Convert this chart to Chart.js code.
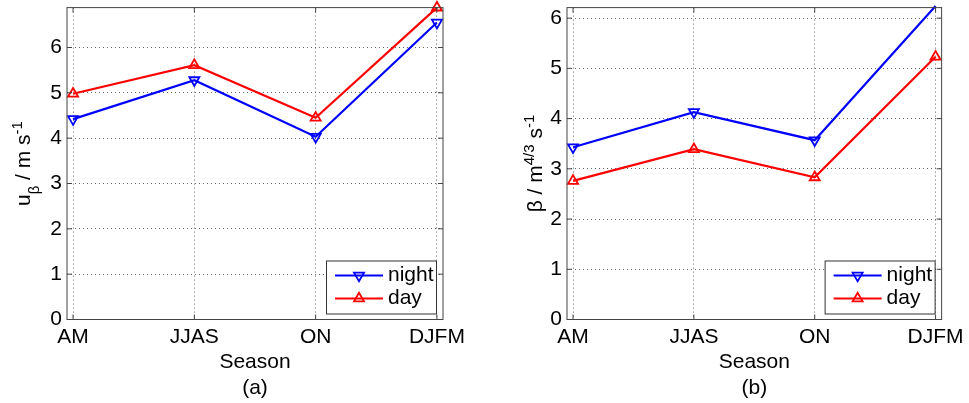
<!DOCTYPE html>
<html>
<head>
<meta charset="utf-8">
<script src="https://cdn.jsdelivr.net/npm/chart.js@4/dist/chart.umd.min.js"></script>
<style>
  body { margin: 0; background: #fff; width: 969px; height: 403px; overflow: hidden; position: relative; }
  canvas { position: absolute; top: 0; }
  #ca { left: 0; }
  #cb { left: 484px; }
</style>
</head>
<body>
<canvas id="ca" width="484" height="403"></canvas>
<canvas id="cb" width="485" height="403"></canvas>
<script>
const seasons = ['AM', 'JJAS', 'ON', 'DJFM'];
const uNight = [4.42, 5.28, 4.03, 6.55];
const uDay = [4.98, 5.61, 4.45, 6.88];
const betaNight = [3.43, 4.13, 3.57, 6.24];
const betaDay = [2.76, 3.39, 2.83, 5.23];
const uMax = 6.88;
const betaMax = 6.21;

const FONT = 'Arial, "Liberation Sans", sans-serif';
Chart.defaults.font.family = FONT;
Chart.defaults.font.size = 21;
Chart.defaults.color = '#000';

function tri(ctx, x, y, r, down) {
  const s = down ? -1 : 1;
  ctx.beginPath();
  ctx.moveTo(x, y - s * r);
  ctx.lineTo(x + r * 0.866, y + s * r / 2);
  ctx.lineTo(x - r * 0.866, y + s * r / 2);
  ctx.closePath();
  ctx.stroke();
}

// box, inner ticks, legend and rotated y title (with sub/superscripts)
const decor = {
  id: 'decor',
  afterDraw(chart, args, opts) {
    const ctx = chart.ctx;
    const a = chart.chartArea;
    const xs = chart.scales.x, ys = chart.scales.y;
    ctx.save();
    ctx.strokeStyle = '#444';
    ctx.lineWidth = 1;
    ctx.strokeRect(a.left, a.top, a.right - a.left, a.bottom - a.top);
    ctx.beginPath();
    xs.ticks.forEach(t => {
      const px = xs.getPixelForValue(t.value);
      ctx.moveTo(px, a.bottom); ctx.lineTo(px, a.bottom - 5);
      ctx.moveTo(px, a.top); ctx.lineTo(px, a.top + 5);
    });
    ys.ticks.forEach(t => {
      const py = ys.getPixelForValue(t.value);
      ctx.moveTo(a.left, py); ctx.lineTo(a.left + 5, py);
      ctx.moveTo(a.right, py); ctx.lineTo(a.right - 5, py);
    });
    ctx.stroke();

    // legend
    const w = 110, h = 53;
    const bx = a.right - 7 - w, by = a.bottom - 6 - h;
    ctx.fillStyle = '#fff';
    ctx.fillRect(bx, by, w, h);
    ctx.strokeStyle = '#333';
    ctx.strokeRect(bx + 0.5, by + 0.5, w, h);
    chart.data.datasets.forEach((ds, i) => {
      const y = by + 15 + i * 23;
      ctx.strokeStyle = ds.borderColor;
      ctx.lineWidth = 2.2;
      ctx.beginPath();
      ctx.moveTo(bx + 9, y); ctx.lineTo(bx + 57, y);
      ctx.stroke();
      ctx.lineWidth = 1.8;
      tri(ctx, bx + 33, y, 5.8, ds.pointRotation === 180);
      ctx.fillStyle = '#000';
      ctx.font = '21px ' + FONT;
      ctx.textBaseline = 'middle';
      ctx.textAlign = 'left';
      ctx.fillText(ds.label, bx + 62, y);
    });

    // y title
    const parts = opts.title;
    const cy = (a.top + a.bottom) / 2;
    ctx.translate(opts.titleX, cy);
    ctx.rotate(-Math.PI / 2);
    ctx.fillStyle = '#000';
    ctx.textBaseline = 'alphabetic';
    const fnt = p => (p.sub || p.sup ? '15px ' : '21px ') + FONT;
    let total = 0;
    parts.forEach(p => { ctx.font = fnt(p); total += ctx.measureText(p.t).width; });
    let cx = -total / 2;
    parts.forEach(p => {
      ctx.font = fnt(p);
      const dy = p.sub ? 9 : p.sup ? -8 : 0;
      ctx.fillText(p.t, cx, dy);
      cx += ctx.measureText(p.t).width;
    });
    ctx.restore();
  }
};

function makeChart(id, night, day, yMax, caption, yWidth, padTop, padRight, title, titleX) {
  const pts = vals => vals.map((v, i) => ({ x: i + 1, y: v }));
  const hideAbove = c => (c.raw && c.raw.y > yMax ? 0 : 5.8);
  return new Chart(document.getElementById(id), {
    type: 'line',
    data: {
      datasets: [
        {
          label: 'night', data: pts(night),
          borderColor: '#0000ff', backgroundColor: 'rgba(0,0,0,0)',
          borderWidth: 2.2, pointStyle: 'triangle', pointRotation: 180,
          pointRadius: hideAbove, pointBorderWidth: 1.8, tension: 0, clip: false
        },
        {
          label: 'day', data: pts(day),
          borderColor: '#ff0000', backgroundColor: 'rgba(0,0,0,0)',
          borderWidth: 2.2, pointStyle: 'triangle', pointRotation: 0,
          pointRadius: hideAbove, pointBorderWidth: 1.8, tension: 0, clip: false
        }
      ]
    },
    options: {
      responsive: false,
      animation: false,
      devicePixelRatio: 1,
      layout: { padding: { top: padTop, right: padRight, left: 0, bottom: 0 } },
      scales: {
        x: {
          type: 'linear', min: 0.95, max: 4.05,
          afterBuildTicks: s => { s.ticks = seasons.map((_, i) => ({ value: i + 1 })); },
          afterFit: s => { s.height = 83.5; },
          ticks: { callback: v => seasons[v - 1], padding: 5, maxRotation: 0, autoSkip: false, color: '#000' },
          grid: { color: '#666', drawTicks: false },
          border: { display: false, dash: [1, 3] },
          title: {
            display: true, text: ['Season', caption], color: '#000',
            font: { size: 21, lineHeight: 1.22 }, padding: { top: 0, bottom: 2 }
          }
        },
        y: {
          min: 0, max: yMax,
          afterFit: s => { s.width = yWidth; s.paddingTop = 0; s.paddingBottom = 0; },
          ticks: { stepSize: 1, includeBounds: false, padding: 5, color: '#000' },
          grid: { color: '#666', drawTicks: false },
          border: { display: false, dash: [1, 3] }
        }
      },
      plugins: {
        legend: { display: false },
        tooltip: { enabled: false },
        decor: { title: title, titleX: titleX }
      }
    },
    plugins: [decor]
  });
}

makeChart('ca', uNight, uDay, uMax, '(a)', 67, 6, 41,
  [{ t: 'u' }, { t: 'β', sub: true }, { t: ' / m s' }, { t: '-1', sup: true }], 30);
makeChart('cb', betaNight, betaDay, betaMax, '(b)', 83, 5, 27,
  [{ t: 'β / m' }, { t: '4/3', sup: true }, { t: ' s' }, { t: '-1', sup: true }], 58);
</script>
</body>
</html>
